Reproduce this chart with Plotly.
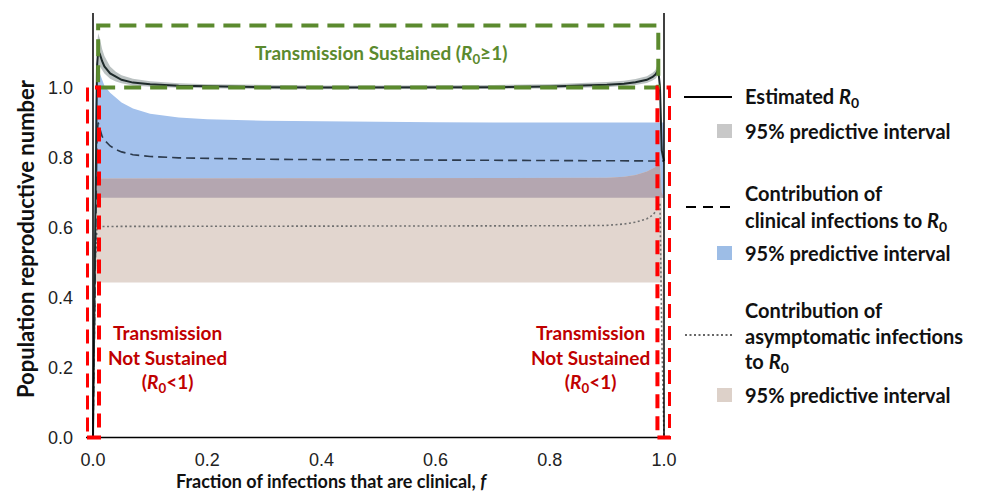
import plotly.graph_objects as go

# ---------------- data ----------------
f = [0.0, 0.004, 0.007, 0.009, 0.012, 0.016, 0.02, 0.03, 0.04, 0.05, 0.07, 0.1, 0.15, 0.2,
     0.3, 0.4, 0.5, 0.6, 0.7, 0.8, 0.85, 0.9, 0.93, 0.95, 0.97, 0.98, 0.985, 0.99, 0.993,
     0.996, 1.0]

r0_est = [0.0, 0.70, 1.06, 1.105, 1.095, 1.075, 1.06, 1.04, 1.03, 1.022, 1.014, 1.009, 1.005,
          1.003, 1.001, 1.0, 1.0, 1.0, 1.001, 1.003, 1.005, 1.008, 1.011, 1.015, 1.022, 1.03,
          1.037, 1.05, 1.0, 0.82, 0.79]
r0_lo = [0.0, 0.65, 1.02, 1.06, 1.06, 1.05, 1.04, 1.025, 1.017, 1.012, 1.006, 1.002, 0.999,
         0.997, 0.995, 0.995, 0.995, 0.995, 0.996, 0.997, 0.999, 1.001, 1.004, 1.007, 1.013,
         1.02, 1.025, 1.035, 0.98, 0.80, 0.78]
r0_hi = [0.0, 0.75, 1.12, 1.155, 1.14, 1.11, 1.09, 1.06, 1.045, 1.035, 1.025, 1.018, 1.012,
         1.009, 1.007, 1.006, 1.006, 1.006, 1.007, 1.009, 1.012, 1.016, 1.019, 1.024, 1.032,
         1.042, 1.05, 1.07, 1.03, 0.84, 0.80]

clin = [0.0, 0.55, 0.86, 0.90, 0.88, 0.86, 0.85, 0.833, 0.823, 0.816, 0.808, 0.803, 0.799,
        0.797, 0.795, 0.794, 0.793, 0.792, 0.791, 0.79, 0.79, 0.79, 0.79, 0.79, 0.79, 0.79,
        0.79, 0.79, 0.79, 0.79, 0.79]
clin_lo = [0.0] + [0.685] * 30
clin_hi = [0.0, 0.95, 1.08, 1.07, 1.04, 1.02, 1.005, 0.985, 0.97, 0.957, 0.94, 0.925, 0.914,
           0.909, 0.905, 0.903, 0.902, 0.901, 0.9, 0.9, 0.9, 0.9, 0.9, 0.9, 0.9, 0.9, 0.9,
           0.9, 0.9, 0.9, 0.9]

asym = [0.0, 0.5, 0.6, 0.603, 0.603, 0.603, 0.603, 0.603, 0.603, 0.603, 0.603, 0.603, 0.603,
        0.603, 0.603, 0.603, 0.603, 0.603, 0.603, 0.604, 0.605, 0.606, 0.61, 0.615, 0.625,
        0.635, 0.645, 0.66, 0.67, 0.3, 0.0]
asym_lo = [0.0] + [0.443] * 29 + [0.0]
asym_hi = [0.0, 0.74, 0.74, 0.74, 0.74, 0.74, 0.74, 0.74, 0.74, 0.74, 0.74, 0.74, 0.74, 0.74,
           0.74, 0.74, 0.74, 0.74, 0.74, 0.74, 0.74, 0.742, 0.745, 0.75, 0.76, 0.768, 0.773,
           0.78, 0.78, 0.70, 0.0]

x_ticks = [0.0, 0.2, 0.4, 0.6, 0.8, 1.0]
x_tick_text = ["0.0", "0.2", "0.4", "0.6", "0.8", "1.0"]
y_ticks = [0.0, 0.2, 0.4, 0.6, 0.8, 1.0]
y_tick_text = ["0.0", "0.2", "0.4", "0.6", "0.8", "1.0"]

# ---------------- layout geometry (page pixels; page body has an 8px margin) ----------------
OFF = 8
W, H = 981 - 2 * OFF, 501 - 2 * OFF
PL, PR, PT, PB = 86, 671, 13, 441          # plot area in page pixels
X0PX, X1PX = 93, 664                        # page pixel of f=0 and f=1
Y0PX, Y1PX = 437.5, 87.5                    # page pixel of y=0 and y=1
xs = (X1PX - X0PX)
ys = (Y0PX - Y1PX)
xr = [(PL - X0PX) / xs, (PR - X0PX) / xs]
yr = [(Y0PX - PB) / ys, (Y0PX - PT) / ys]


def px(p):      # page pixel x -> paper
    return (p - PL) / (PR - PL)


def py(p):      # page pixel y -> paper
    return (PB - p) / (PB - PT)


TXT = "Lato"
BLUE = "rgb(163,193,236)"
TAN = "rgb(226,214,207)"
OVER = "rgb(180,166,176)"
GREYB = "rgba(105,120,120,0.45)"
GREEN = "#5b8a2e"
RED = "#ff0000"
DRED = "#c00000"

fig = go.Figure()


def band(lo, hi, color):
    fig.add_trace(go.Scatter(x=f + f[::-1], y=hi + lo[::-1], fill="toself", fillcolor=color,
                             line=dict(width=0), mode="lines", hoverinfo="skip",
                             showlegend=False))


band(clin_lo, clin_hi, BLUE)
band(asym_lo, asym_hi, TAN)
ov_lo = [max(a, b) for a, b in zip(clin_lo, asym_lo)]
ov_hi = [max(min(a, b), l) for a, b, l in zip(clin_hi, asym_hi, ov_lo)]
band(ov_lo, ov_hi, OVER)
band(r0_lo, r0_hi, GREYB)

fig.add_trace(go.Scatter(x=f, y=asym, mode="lines", showlegend=False,
                         line=dict(color="#707070", width=1.6, dash="2px,2.5px")))
fig.add_trace(go.Scatter(x=f, y=clin, mode="lines", showlegend=False,
                         line=dict(color="#2c3a4c", width=1.6, dash="9px,5px")))
fig.add_trace(go.Scatter(x=f, y=r0_est, mode="lines", showlegend=False,
                         line=dict(color="#1e2a2a", width=2)))

shapes = []
# axis lines
shapes.append(dict(type="line", xref="x", yref="y", x0=xr[0], x1=xr[1], y0=0, y1=0,
                   line=dict(color="black", width=1.5)))
shapes.append(dict(type="line", xref="x", yref="paper", x0=0, x1=0, y0=py(PB - 3.5), y1=1,
                   line=dict(color="black", width=1.5)))
shapes.append(dict(type="line", xref="x", yref="paper", x0=1, x1=1, y0=py(PB - 3.5), y1=1,
                   line=dict(color="black", width=1.5)))
# regions
shapes.append(dict(type="rect", xref="x", yref="y", x0=0.009, x1=0.99, y0=1.0, y1=1.177,
                   line=dict(color=GREEN, width=4, dash="17px,9px")))
shapes.append(dict(type="rect", xref="x", yref="y", x0=-0.0105, x1=0.0105, y0=0.0, y1=1.0,
                   line=dict(color=RED, width=4, dash="14px,8px")))
shapes.append(dict(type="rect", xref="x", yref="y", x0=0.9885, x1=1.0105, y0=0.0, y1=1.0,
                   line=dict(color=RED, width=4, dash="14px,8px")))

# legend glyphs
shapes.append(dict(type="line", xref="paper", yref="paper", x0=px(684), x1=px(732),
                   y0=py(97), y1=py(97), line=dict(color="black", width=2)))
shapes.append(dict(type="line", xref="paper", yref="paper", x0=px(686), x1=px(733),
                   y0=py(207), y1=py(207), line=dict(color="black", width=2, dash="10px,7px")))
shapes.append(dict(type="line", xref="paper", yref="paper", x0=px(685), x1=px(733),
                   y0=py(335), y1=py(335), line=dict(color="#333", width=1.6, dash="2px,2.5px")))
for yc, col in [(131, "rgb(200,200,200)"), (253, "rgb(157,189,230)"), (395, "rgb(221,209,201)")]:
    shapes.append(dict(type="rect", xref="paper", yref="paper", x0=px(717), x1=px(732),
                       y0=py(yc + 7), y1=py(yc - 7), line=dict(width=0), fillcolor=col))

ann = []


def txt(x, y, text, size=20, color="#111", xanchor="left", align="left", yanchor="middle",
        pad=1):
    ann.append(dict(xref="paper", yref="paper", x=px(x), y=py(y), text=text, showarrow=False,
                    xanchor=xanchor, yanchor=yanchor, align=align, borderpad=pad,
                    font=dict(family=TXT, size=size, color=color)))


R0 = "<i>R</i><sub>0</sub>"
txt(743, 97, "<b>Estimated " + R0 + "</b>")
txt(743, 131, "<b>95% predictive interval</b>")
txt(743, 193, "<b>Contribution of</b>")
txt(743, 221, "<b>clinical infections to " + R0 + "</b>")
txt(743, 253, "<b>95% predictive interval</b>")
txt(743, 310, "<b>Contribution of</b>")
txt(743, 336, "<b>asymptomatic infections</b>")
txt(743, 362, "<b>to " + R0 + "</b>")
txt(743, 395, "<b>95% predictive interval</b>")

txt(381, 54, "<b>Transmission Sustained (" + R0 + "≥1)</b>", size=19, color=GREEN,
    xanchor="center", align="center")
txt(167, 358, "<b>Transmission<br>Not Sustained<br>(" + R0 + "&lt;1)</b>", size=19, color=DRED,
    xanchor="center", align="center")
txt(590, 358, "<b>Transmission<br>Not Sustained<br>(" + R0 + "&lt;1)</b>", size=19, color=DRED,
    xanchor="center", align="center")

# axis titles
txt(331, 493, "<b>Fraction of infections that are clinical, <i>f</i></b>", size=18,
    xanchor="center", align="center", yanchor="bottom", pad=0)
ann.append(dict(xref="paper", yref="paper", x=px(25), y=py(239),
                text="<b>Population reproductive number</b>", showarrow=False, textangle=-90,
                xanchor="center", yanchor="middle",
                font=dict(family=TXT, size=22, color="#111")))

fig.update_layout(
    width=W, height=H,
    margin=dict(l=PL - OFF, r=(981 - OFF) - PR, t=PT - OFF, b=(501 - OFF) - PB),
    paper_bgcolor="white", plot_bgcolor="white",
    shapes=shapes, annotations=ann, showlegend=False,
    xaxis=dict(range=xr, tickvals=x_ticks, ticktext=x_tick_text, showgrid=False,
               zeroline=False, showline=False, ticks="", ticklabelstandoff=6,
               tickfont=dict(family="Liberation Sans", size=18, color="#222")),
    yaxis=dict(range=yr, tickvals=y_ticks, ticktext=y_tick_text, showgrid=False,
               zeroline=False, showline=False, ticks="", ticklabelstandoff=12,
               tickfont=dict(family="Liberation Sans", size=18, color="#222")),
)

fig.write_html("out.html")
